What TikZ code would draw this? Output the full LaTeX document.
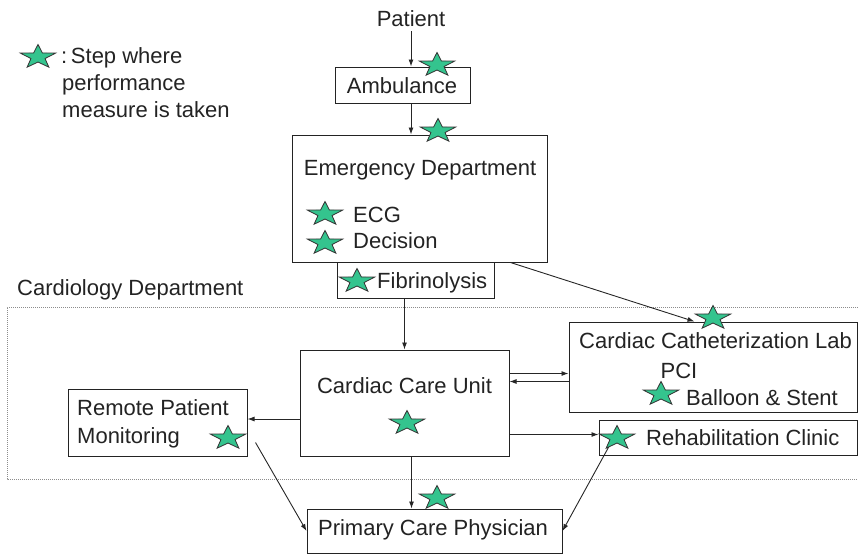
\documentclass[tikz,border=0pt]{standalone}
\usepackage{fontspec}
\setmainfont{Liberation Sans}
\usepackage{xcolor}
\usepackage{tikz}
\usetikzlibrary{shapes.geometric, arrows.meta, positioning, calc}

\definecolor{stargreen}{RGB}{52,196,142}
\definecolor{inkgray}{RGB}{35,35,35}

\begin{document}
\begin{tikzpicture}[
    x=1pt, y=-1pt,
    every node/.style={font=\fontsize{22}{27}\selectfont, text=inkgray},
    box/.style={rectangle, draw=inkgray, fill=white, line width=1pt, inner sep=0pt},
    lbl/.style={inner sep=0pt},
    mstar/.style={star, star points=5, star point ratio=2.5, draw=black!80,
                  line width=0.8pt, fill=stargreen, minimum size=37, inner sep=0pt,
                  yscale=0.68, transform shape},
    frame/.style={draw=gray!90, line width=1pt, dash pattern=on 1pt off 1pt},
    arrow/.style={-{Latex[length=7pt, width=5pt]}, line width=0.9pt, draw=black!85}
]
\useasboundingbox (0,0) rectangle (858,555);

% legend
\node[lbl, anchor=base west] (key1) at (61,63) {:\,Step where};
\node[lbl, anchor=base west] (key2) at (62,90) {performance};
\node[lbl, anchor=base west] (key3) at (62,117) {measure is taken};

% cardiology department frame
\draw[frame] (858,307) -- (7,307) -- (7,479) -- (858,479);
\node[lbl, anchor=base west] (cardio) at (17,295) {Cardiology Department};

% boxes
\node[lbl, anchor=base] (patient) at (411,26) {Patient};
\node[box, minimum width=135, minimum height=36] (amb) at (402.5,85) {};
\node[box, minimum width=255, minimum height=127] (ed) at (419.5,198.5) {};
\node[box, minimum width=157, minimum height=36] (fib) at (415.5,280) {};
\node[box, minimum width=209, minimum height=106] (ccu) at (404.5,403) {};
\node[box, minimum width=179, minimum height=67] (rpm) at (157.5,422.5) {};
\node[box, minimum width=288, minimum height=90] (cath) at (713,367) {};
\node[box, minimum width=258, minimum height=35] (rehab) at (728,437.5) {};
\node[box, minimum width=255, minimum height=44] (pcp) at (434.5,531) {};

% box texts
\node[lbl, anchor=base] (ambtext) at (402,93) {Ambulance};
\node[lbl, anchor=base] (edtext) at (420,175) {Emergency Department};
\node[lbl, anchor=base west] (ecg) at (353,222) {ECG};
\node[lbl, anchor=base west] (decision) at (353,248) {Decision};
\node[lbl, anchor=base west] (fibtext) at (377,288) {Fibrinolysis};
\node[lbl, anchor=base] (ccutext) at (404.5,393) {Cardiac Care Unit};
\node[lbl, anchor=base west] (rpm1) at (77,415) {Remote Patient};
\node[lbl, anchor=base west] (rpm2) at (77,443) {Monitoring};
\node[lbl, anchor=base west] (cath1) at (579,348) {Cardiac Catheterization Lab};
\node[lbl, anchor=base] (pci) at (679,378) {PCI};
\node[lbl, anchor=base west] (balloon) at (686,405) {Balloon \& Stent};
\node[lbl, anchor=base west] (rehabtext) at (646,445) {Rehabilitation Clinic};
\node[lbl, anchor=base] (pcptext) at (433,535) {Primary Care Physician};

% connectors
\coordinate (c1) at ($(ccu.north east)+(0,24)$);
\coordinate (c2) at ($(ccu.north east)+(0,32)$);
\coordinate (c3) at ($(ccu.south east)+(0,-22)$);
\coordinate (c4) at ($(ccu.west)+(0,16)$);
\coordinate (c5) at ($(ccu.south)+(7,0)$);
\coordinate (rpmout) at ($(rpm.south east)+(8,-14)$);
\coordinate (rehabout) at ($(rehab.south west)+(11,-10)$);

\draw[arrow, shorten <=5pt] (patient.south) -- (patient.south |- amb.north);
\draw[arrow] (amb.south -| patient.south) -- (ed.north -| patient.south);
\draw[arrow] (fib.south -| ccu.north) -- (ccu.north);
\draw[arrow] ($(ed.south east)+(-37,0)$) -- ($(cath.north west)+(126,0)$);
\draw[arrow] (c1) -- (c1 -| cath.west);
\draw[arrow] (c2 -| cath.west) -- (c2);
\draw[arrow] (c3) -- (c3 -| rehab.west);
\draw[arrow] (c4) -- (c4 -| rpm.east);
\draw[arrow] (c5) -- (c5 |- pcp.north);
\draw[arrow] (rpmout) -- (pcp.west);
\draw[arrow] (rehabout) -- (pcp.east);

% measurement stars
\node[mstar] (s-key) at (38,57) {};
\node[mstar] (s-amb) at (437,65) {};
\node[mstar] (s-ed) at (438,131) {};
\node[mstar] (s-ecg) at (325,214) {};
\node[mstar] (s-dec) at (325,243) {};
\node[mstar] (s-fib) at (357,281) {};
\node[mstar] (s-ccu) at (407,423) {};
\node[mstar] (s-rpm) at (228,438) {};
\node[mstar] (s-cath) at (713,318) {};
\node[mstar] (s-pci) at (661,394) {};
\node[mstar] (s-rehab) at (617,438) {};
\node[mstar] (s-pcp) at (437,498) {};

\end{tikzpicture}
\end{document}
